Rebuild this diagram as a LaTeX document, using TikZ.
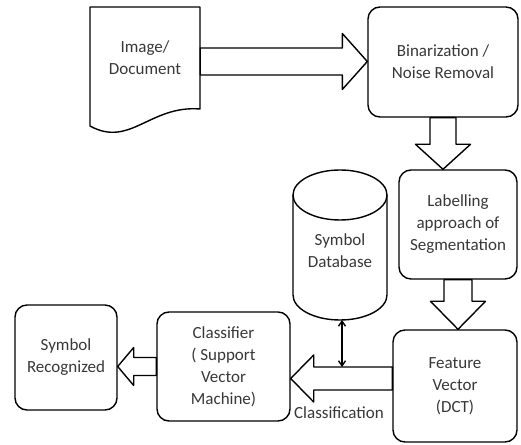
\documentclass[tikz,border=0pt]{standalone}
\usepackage{fontspec}
\setmainfont{Carlito}
\usetikzlibrary{calc,arrows.meta}
\tikzset{
  lw/.style={line width=1.4pt, line join=round},
  box/.style={lw, draw=black, rounded corners=12pt, align=center, inner sep=0pt},
  txt/.style={align=center, text=black!78, font=\fontsize{17}{22}\selectfont},
  fat/.style={lw, draw=black, fill=white},
}
\newcommand\fatH[5]{\draw[fat] let \p1=(#1), \p2=(#2) in
  ({\x1},{\y1+#3}) -- ({\x2-(#5)},{\y1+#3}) -- ({\x2-(#5)},{\y1+#4}) -- ({\x2},{\y1}) --
  ({\x2-(#5)},{\y1-#4}) -- ({\x2-(#5)},{\y1-#3}) -- ({\x1},{\y1-#3}) -- cycle;}
\newcommand\fatV[5]{\draw[fat] let \p1=(#1), \p2=(#2) in
  ({\x1+#3},{\y1}) -- ({\x1+#3},{\y2+#5}) -- ({\x1+#4},{\y2+#5}) -- ({\x1},{\y2}) --
  ({\x1-#4},{\y2+#5}) -- ({\x1-#3},{\y2+#5}) -- ({\x1-#3},{\y1}) -- cycle;}
\begin{document}
\begin{tikzpicture}[x=1pt,y=1pt]
\useasboundingbox[fill=white] (0,0) rectangle (521,444);
% document shape
\draw[lw] (90,437) -- (200,437) -- (200,335) .. controls (150,339) and (130,296) .. (90,318) -- cycle;
\node[txt, minimum width=110pt, minimum height=102pt, inner sep=0pt] (doc) at (145,386) {Image/\\Document};
% boxes
\node[box, txt, minimum width=150pt, minimum height=110pt] (bin) at (443,382) {Binarization /\\Noise Removal};
\node[box, txt, minimum width=118pt, minimum height=109pt] (lab) at (458,219.5) {Labelling\\approach of\\Segmentation};
\node[box, txt, minimum width=124pt, minimum height=112pt] (feat) at (455,58) {Feature\\Vector\\(DCT)};
\node[box, txt, minimum width=133pt, minimum height=109pt] (cls) at (223.5,77.5) {Classifier\\( Support\\Vector\\Machine)};
\node[box, txt, minimum width=102pt, minimum height=105pt] (rec) at (66,86.5) {Symbol\\Recognized};
% database cylinder
\draw[lw, fill=white] (293,249) -- (293,149) arc[start angle=180, end angle=360, x radius=47pt, y radius=25pt] -- (387,249);
\draw[lw] (340,249) ellipse[x radius=47pt, y radius=25pt];
\node[txt] (db) at (340,193) {Symbol\\Database};
\coordinate (dbbot) at (342,124);
% fat arrows
\fatH{[yshift=-3.5pt]doc.east}{bin.west}{13.5pt}{28pt}{25pt}
\fatV{bin.south}{bin.south |- lab.north}{13pt}{27.5pt}{25pt}
\fatV{lab.south}{lab.south |- feat.north}{14pt}{27.5pt}{28pt}
\fatH{[yshift=7.5pt]feat.west}{cls.east}{11.5pt}{23.5pt}{-23pt}
\fatH{cls.west}{rec.east}{9pt}{19pt}{-16pt}
% database link
\coordinate (jt) at ([yshift=19pt]feat.west);
\draw[lw, {Straight Barb[length=5pt,width=7pt]}-{Straight Barb[length=5pt,width=7pt]}] (dbbot) -- (dbbot |- jt);
\node[txt] (clab) at (339,31) {Classification};
\end{tikzpicture}
\end{document}
